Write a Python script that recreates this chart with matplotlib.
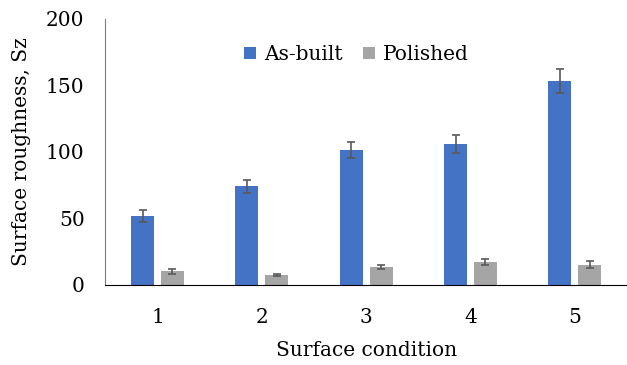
import matplotlib
matplotlib.use("Agg")
import matplotlib.pyplot as plt
import numpy as np

conditions = ["1", "2", "3", "4", "5"]
as_built = [52, 74, 101.5, 106, 153.5]
as_built_err = [4.5, 4.7, 6, 7, 9]
polished = [10, 7, 13, 17, 15]
polished_err = [2, 0.8, 1.5, 2, 2.5]

plt.rcParams['font.family'] = ['DejaVu Serif']

fig, ax = plt.subplots(figsize=(6.27, 3.65), dpi=100)
fig.subplots_adjust(left=0.168, right=1.0, top=0.948, bottom=0.22)

x = np.arange(1, len(conditions) + 1)
w = 0.22
err_kw = dict(ecolor="#595959", elinewidth=1.2, capsize=3, capthick=1.2)
ax.bar(x - 0.143, as_built, w, yerr=as_built_err, color="#4472C4",
       label="As-built", error_kw=err_kw)
ax.bar(x + 0.143, polished, w, yerr=polished_err, color="#A5A5A5",
       label="Polished", error_kw=err_kw)

ax.set_xlim(0.5, 5.5)
ax.set_ylim(0, 200)
ax.set_yticks([0, 50, 100, 150, 200])
ax.set_xticks(x)
ax.set_xticklabels(conditions)
ax.tick_params(length=0, labelsize=14.5)
ax.tick_params(axis="y", pad=15)
ax.tick_params(axis="x", pad=17)

ax.spines["top"].set_visible(False)
ax.spines["right"].set_visible(False)
ax.spines["left"].set_color("#7f7f7f")
ax.spines["bottom"].set_color("black")

ax.set_xlabel("Surface condition", fontsize=14.5, labelpad=10)
ax.set_ylabel("Surface roughness, Sz", fontsize=14.5, labelpad=11)

ax.legend(loc="upper center", bbox_to_anchor=(0.481, 0.97), ncol=2, frameon=False,
          fontsize=14.5, handlelength=0.6, handleheight=0.6, columnspacing=1.0,
          handletextpad=0.4)

fig.savefig("out.png")
